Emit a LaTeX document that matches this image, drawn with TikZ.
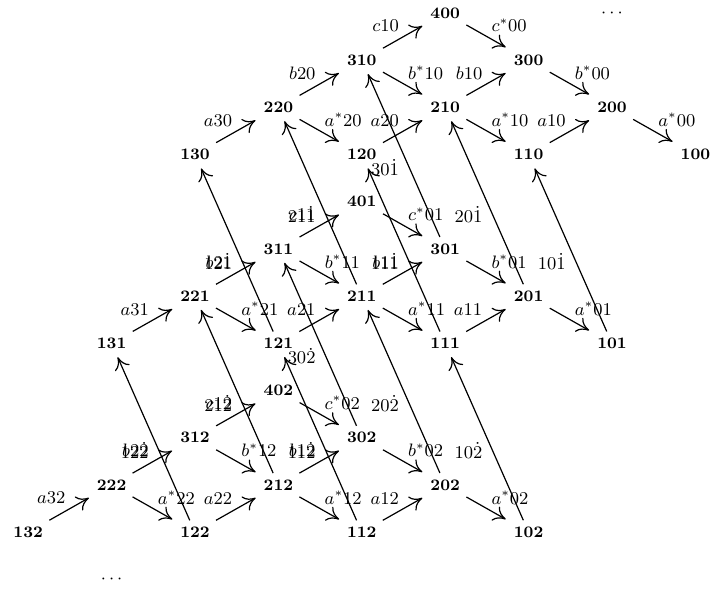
\documentclass[tikz,border=0pt]{standalone}
\usetikzlibrary{arrows.meta,positioning}

\begin{document}
\begin{tikzpicture}[->,>={Computer Modern Rightarrow[length=6pt,width=8pt]},
    shorten >=1pt,auto,on grid,node distance=23.6pt and 41.7pt,
    semithick,main node/.style={font=\footnotesize\bfseries,inner sep=3pt},
    dots node/.style={font=\small,inner sep=0pt}]
  \useasboundingbox (0,0) rectangle (355pt,-294pt);

  % layer 0
  \node[main node] (n400) at (222.6pt,-6.5pt) {400};
  \node[main node] (n310) [below left=of n400] {310};
  \node[main node] (n300) [below right=of n400] {300};
  \node[main node] (n220) [below left=of n310] {220};
  \node[main node] (n210) [below right=of n310] {210};
  \node[main node] (n200) [below right=of n300] {200};
  \node[main node] (n130) [below left=of n220] {130};
  \node[main node] (n120) [below right=of n220] {120};
  \node[main node] (n110) [below right=of n210] {110};
  \node[main node] (n100) [below right=of n200] {100};
  % layer 1
  \node[main node] (n401) [below left=94.4pt and 41.7pt of n400] {401};
  \node[main node] (n311) [below left=of n401] {311};
  \node[main node] (n301) [below right=of n401] {301};
  \node[main node] (n221) [below left=of n311] {221};
  \node[main node] (n211) [below right=of n311] {211};
  \node[main node] (n201) [below right=of n301] {201};
  \node[main node] (n131) [below left=of n221] {131};
  \node[main node] (n121) [below right=of n221] {121};
  \node[main node] (n111) [below right=of n211] {111};
  \node[main node] (n101) [below right=of n201] {101};
  % layer 2
  \node[main node] (n402) [below left=94.4pt and 41.7pt of n401] {402};
  \node[main node] (n312) [below left=of n402] {312};
  \node[main node] (n302) [below right=of n402] {302};
  \node[main node] (n222) [below left=of n312] {222};
  \node[main node] (n212) [below right=of n312] {212};
  \node[main node] (n202) [below right=of n302] {202};
  \node[main node] (n132) [below left=of n222] {132};
  \node[main node] (n122) [below right=of n222] {122};
  \node[main node] (n112) [below right=of n212] {112};
  \node[main node] (n102) [below right=of n202] {102};
  % continuation
  \node[dots node] (topdots) [right=83.4pt of n400] {$\cdots$};
  \node[dots node] (botdots) [below right=of n132] {$\cdots$};

  \path[every node/.style={font=\small,inner sep=2pt}]
  % layer 0
    (n310) edge node {$c10$} (n400)
    (n400) edge node {$c^*00$} (n300)
    (n220) edge node {$b20$} (n310)
    (n310) edge node {$b^*10$} (n210)
    (n210) edge node {$b10$} (n300)
    (n300) edge node {$b^*00$} (n200)
    (n130) edge node {$a30$} (n220)
    (n220) edge node {$a^*20$} (n120)
    (n120) edge node {$a20$} (n210)
    (n210) edge node {$a^*10$} (n110)
    (n110) edge node {$a10$} (n200)
    (n200) edge node {$a^*00$} (n100)
  % layer 1
    (n311) edge node {$c11$} (n401)
    (n401) edge node {$c^*01$} (n301)
    (n221) edge node {$b21$} (n311)
    (n311) edge node {$b^*11$} (n211)
    (n211) edge node {$b11$} (n301)
    (n301) edge node {$b^*01$} (n201)
    (n131) edge node {$a31$} (n221)
    (n221) edge node {$a^*21$} (n121)
    (n121) edge node {$a21$} (n211)
    (n211) edge node {$a^*11$} (n111)
    (n111) edge node {$a11$} (n201)
    (n201) edge node {$a^*01$} (n101)
  % layer 2
    (n312) edge node {$c12$} (n402)
    (n402) edge node {$c^*02$} (n302)
    (n222) edge node {$b22$} (n312)
    (n312) edge node {$b^*12$} (n212)
    (n212) edge node {$b12$} (n302)
    (n302) edge node {$b^*02$} (n202)
    (n132) edge node {$a32$} (n222)
    (n222) edge node {$a^*22$} (n122)
    (n122) edge node {$a22$} (n212)
    (n212) edge node {$a^*12$} (n112)
    (n112) edge node {$a12$} (n202)
    (n202) edge node {$a^*02$} (n102)
  % between layers
    (n121) edge node {$12\dot{1}$} (n130)
    (n211) edge node {$21\dot{1}$} (n220)
    (n301) edge node {$30\dot{1}$} (n310)
    (n111) edge node {$11\dot{1}$} (n120)
    (n201) edge node {$20\dot{1}$} (n210)
    (n101) edge node {$10\dot{1}$} (n110)
    (n122) edge node {$12\dot{2}$} (n131)
    (n212) edge node {$21\dot{2}$} (n221)
    (n302) edge node {$30\dot{2}$} (n311)
    (n112) edge node {$11\dot{2}$} (n121)
    (n202) edge node {$20\dot{2}$} (n211)
    (n102) edge node {$10\dot{2}$} (n111)
    ;
\end{tikzpicture}
\end{document}
